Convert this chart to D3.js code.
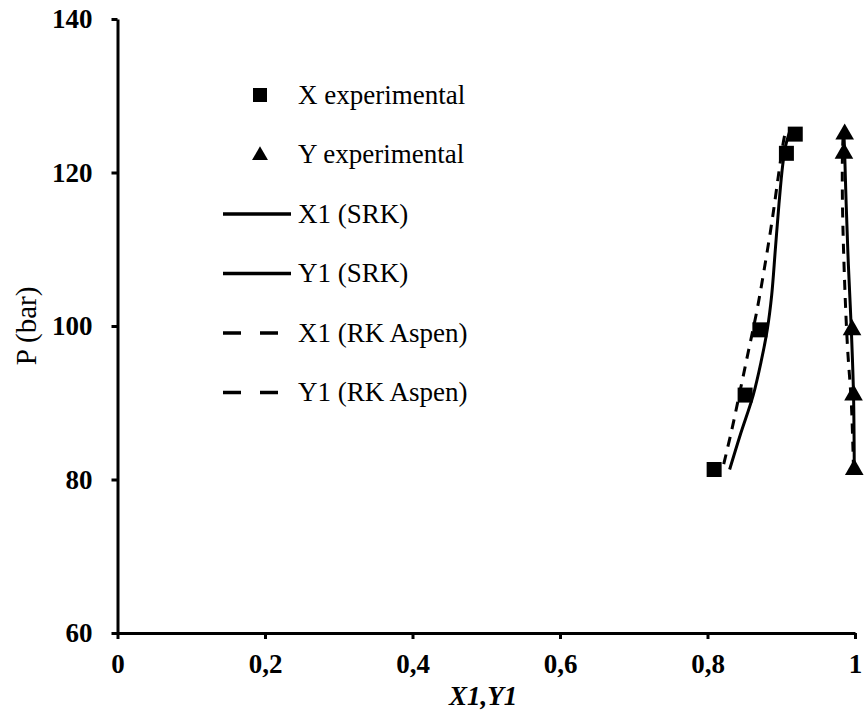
<!DOCTYPE html>
<html>
<head>
<meta charset="utf-8">
<script src="https://cdn.jsdelivr.net/npm/d3@7"></script>
<style>
  body { margin: 0; background: #fff; }
  svg text { font-family: "Times New Roman", "Liberation Serif", Times, serif; }
</style>
</head>
<body>
<svg id="chart" width="865" height="716"></svg>
<script>
// experimental points [x, P]
const xExp = [[0.809, 81.3], [0.851, 91.0], [0.871, 99.5], [0.907, 122.5], [0.919, 125.0]];
const yExp = [[0.999, 81.3], [0.998, 91.0], [0.996, 99.5], [0.985, 122.5], [0.986, 125.0]];

// model curves
const x1Srk = [[0.830, 81.3], [0.845, 86], [0.862, 91], [0.873, 95.5], [0.881, 99.5], [0.887, 104],
               [0.892, 110], [0.897, 116], [0.902, 121], [0.906, 123.5], [0.912, 125.5]];
const y1Srk = [[0.999, 81.3], [0.998, 91], [0.995, 99.5], [0.991, 108], [0.988, 116], [0.986, 122.5], [0.985, 125]];
const x1Rk  = [[0.822, 82], [0.833, 86.5], [0.843, 91], [0.855, 96.5], [0.867, 102], [0.878, 108],
               [0.888, 114], [0.896, 119.5], [0.902, 123.5], [0.906, 125.5]];
const y1Rk  = [[0.998, 81.3], [0.995, 90], [0.990, 97], [0.986, 105.5], [0.983, 116], [0.983, 122.5], [0.984, 125]];

const xTicks = [0, 0.2, 0.4, 0.6, 0.8, 1];
const yTicks = [60, 80, 100, 120, 140];

const legendItems = [
  {label: "X experimental", type: "square"},
  {label: "Y experimental", type: "triangle"},
  {label: "X1 (SRK)", type: "solid"},
  {label: "Y1 (SRK)", type: "solid"},
  {label: "X1 (RK Aspen)", type: "dash"},
  {label: "Y1 (RK Aspen)", type: "dash"}
];

const FONT = "'Times New Roman', 'Liberation Serif', Times, serif";
const svg = d3.select("#chart");
const x = d3.scaleLinear().domain([0, 1]).range([117.5, 855]);
const y = d3.scaleLinear().domain([60, 140]).range([633, 19]);

//axes
const xAxis = svg.append("g")
  .attr("transform", `translate(0,${y(60)})`)
  .call(d3.axisBottom(x).tickValues(xTicks).tickSize(6).tickSizeOuter(0)
    .tickFormat(d => String(d).replace(".", ",")));
const yAxis = svg.append("g")
  .attr("transform", `translate(${x(0)},0)`)
  .call(d3.axisLeft(y).tickValues(yTicks).tickSize(6).tickSizeOuter(0));

[xAxis, yAxis].forEach(g => {
  g.attr("font-family", null);
  g.select(".domain").attr("stroke", "#000").attr("stroke-width", 3);
  g.selectAll(".tick line").attr("stroke", "#000").attr("stroke-width", 3);
  g.selectAll(".tick text")
    .attr("fill", "#000")
    .style("font-size", "27px")
    .style("font-weight", "bold")
    .style("font-family", FONT);
});
xAxis.selectAll(".tick text").attr("y", 40).attr("dy", null);
yAxis.selectAll(".tick text").attr("x", -25).attr("dy", "0.33em");

svg.append("text")
  .attr("x", (x(0) + x(1)) / 2 - 3).attr("y", 705)
  .attr("text-anchor", "middle")
  .style("font-family", FONT)
  .style("font-size", "27px").style("font-weight", "bold").style("font-style", "italic")
  .text("X1,Y1");

svg.append("text")
  .attr("transform", `translate(36,${y(100)}) rotate(-90)`)
  .attr("text-anchor", "middle")
  .style("font-family", FONT)
  .style("font-size", "29px")
  .text("P (bar)");

//curves
const line = d3.line().x(d => x(d[0])).y(d => y(d[1])).curve(d3.curveCatmullRom);
const curves = [
  {data: x1Srk, dash: null},
  {data: y1Srk, dash: null},
  {data: x1Rk, dash: "10,8"},
  {data: y1Rk, dash: "10,8"}
];
svg.append("g").selectAll("path")
  .data(curves)
  .join("path")
    .attr("d", d => line(d.data))
    .attr("fill", "none")
    .attr("stroke", "#000")
    .attr("stroke-width", 3)
    .attr("stroke-dasharray", d => d.dash);

//markers
svg.append("g").selectAll("path")
  .data(xExp)
  .join("path")
    .attr("transform", d => `translate(${x(d[0])},${y(d[1])})`)
    .attr("d", d3.symbol(d3.symbolSquare, 225))
    .attr("fill", "#000");
svg.append("g").selectAll("path")
  .data(yExp)
  .join("path")
    .attr("transform", d => `translate(${x(d[0])},${y(d[1])})`)
    .attr("d", d3.symbol(d3.symbolTriangle, 150))
    .attr("fill", "#000");

//legend
const legend = svg.append("g");
const rows = legend.selectAll("g")
  .data(legendItems)
  .join("g")
    .attr("transform", (d, i) => `translate(0,${95 + i * 59.5})`);
rows.filter(d => d.type === "square").append("path")
  .attr("transform", "translate(260,0)")
  .attr("d", d3.symbol(d3.symbolSquare, 196)).attr("fill", "#000");
rows.filter(d => d.type === "triangle").append("path")
  .attr("transform", "translate(260,1)")
  .attr("d", d3.symbol(d3.symbolTriangle, 110)).attr("fill", "#000");
rows.filter(d => d.type !== "square" && d.type !== "triangle").append("line")
  .attr("x1", 223).attr("x2", 291)
  .attr("stroke", "#000").attr("stroke-width", 3.5)
  .attr("stroke-dasharray", d => d.type === "dash" ? "18,19" : null);
rows.append("text")
  .attr("x", 298).attr("dy", "0.33em")
  .style("font-family", FONT)
  .style("font-size", "27px")
  .text(d => d.label);
</script>
</body>
</html>
